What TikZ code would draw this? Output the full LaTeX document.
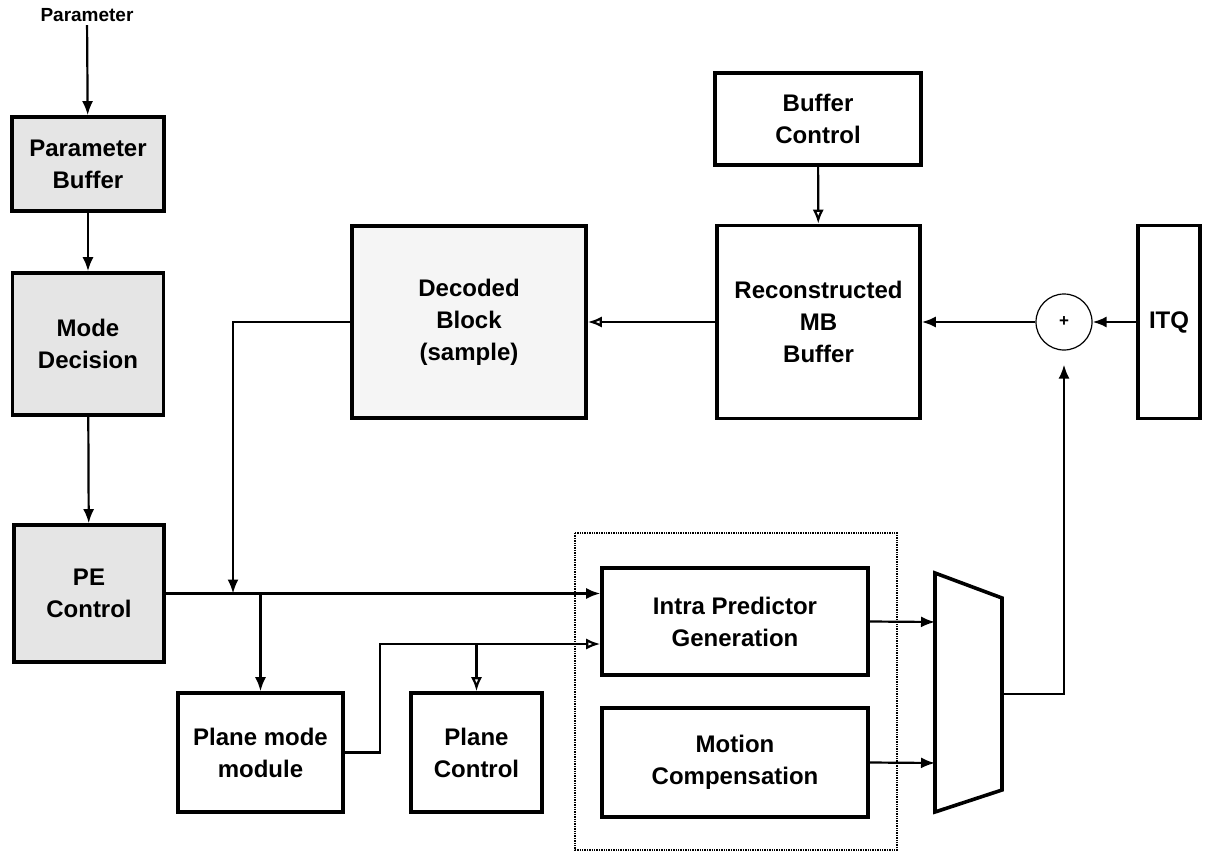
\documentclass[tikz,border=0pt]{standalone}
\usepackage{fontspec}
\setmainfont{Liberation Sans}
\usetikzlibrary{arrows.meta,calc}

\tikzset{
	blk/.style={draw, line width=3.6pt, align=center, inner sep=0pt, font=\bfseries\fontsize{24}{32}\selectfont},
	greyblk/.style={blk, fill=black!10},
	wire/.style={line width=2.2pt},
	arr/.style={wire, -{Latex[length=14pt,width=11pt]}},
	oarr/.style={wire, -{Latex[open,length=14pt,width=11pt]}},
}

\begin{document}
\begin{tikzpicture}[x=1pt,y=-1pt]
			%%%%% START %%%%%
			\useasboundingbox (0,0) rectangle (1209,856);
			
			\node[font=\bfseries\fontsize{19}{20}\selectfont] (ptxt) at (87,15) {Parameter};
			\node[greyblk, minimum width=152pt, minimum height=94pt] (pbuf) at (88,164) {Parameter\\Buffer};
			\node[greyblk, minimum width=151pt, minimum height=142pt] (mdec) at (88,344) {Mode\\Decision};
			\node[greyblk, minimum width=150pt, minimum height=137pt] (pectl) at (89,593.5) {PE\\Control};
			
			\node[blk, fill=black!4, minimum width=234pt, minimum height=192pt] (dblk) at (469,322) {Decoded\\Block\\(sample)};
			\node[blk, minimum width=206pt, minimum height=92pt] (bctl) at (818,119) {Buffer\\Control};
			\node[blk, minimum width=203pt, minimum height=193pt] (rmb) at (818.5,322) {Reconstructed\\MB\\Buffer};
			\node[draw, circle, line width=1.2pt, minimum size=56pt, inner sep=0pt, font=\bfseries\fontsize{17}{17}\selectfont] (sum) at (1064,322) {+};
			\node[blk, minimum width=62pt, minimum height=193pt] (itq) at (1169,322) {ITQ};
			
			\node[blk, minimum width=165pt, minimum height=119pt] (pmode) at (260.5,752.5) {Plane mode\\module};
			\node[blk, minimum width=131pt, minimum height=119pt] (pctl) at (476.5,752.5) {Plane\\Control};
			
			\draw[densely dotted, line width=1.4pt] (575,533) rectangle (897,850);
			\node[blk, minimum width=266pt, minimum height=107pt] (intra) at (735,621.5) {Intra Predictor\\Generation};
			\node[blk, minimum width=266pt, minimum height=109pt] (mcomp) at (735,762.5) {Motion\\Compensation};
			
			% mux
			\draw[line width=3.6pt, line join=miter] (935,573) -- (1002,598) -- (1002,790) -- (935,812) -- cycle;
			\coordinate (muxa) at (935,622);
			\coordinate (muxb) at (935,763);
			\coordinate (muxout) at (1002,694);
			
			\coordinate (tap) at (233,593.5);
			\coordinate (bend) at (380,644);
			
			\draw[arr] (ptxt) -- (pbuf);
			\draw[arr] (pbuf) -- (mdec);
			\draw[arr] (mdec) -- (pectl);
			
			\draw[oarr] (bctl) -- (rmb);
			\draw[arr] (itq.west) -- (sum.east);
			\draw[arr] (sum.west) -- (rmb.east);
			\draw[oarr] (rmb.west) -- (dblk.east);
			\draw[arr] (dblk.west) -| (tap);
			
			\draw[arr] (pectl.east) -- (pectl.east -| intra.west);
			\draw[arr] (pmode.north |- pectl.east) -- (pmode.north);
			\draw[oarr] (pmode.east) -| (bend) -- (bend -| intra.west);
			\draw[oarr] (pctl.north |- bend) -- (pctl.north);
			
			\draw[arr] (intra.east) -- (muxa);
			\draw[arr] (mcomp.east) -- (muxb);
			\draw[arr, shorten >=14pt] (muxout) -| (sum.south);
			
			%%%%% END %%%%%
\end{tikzpicture}
\end{document}
